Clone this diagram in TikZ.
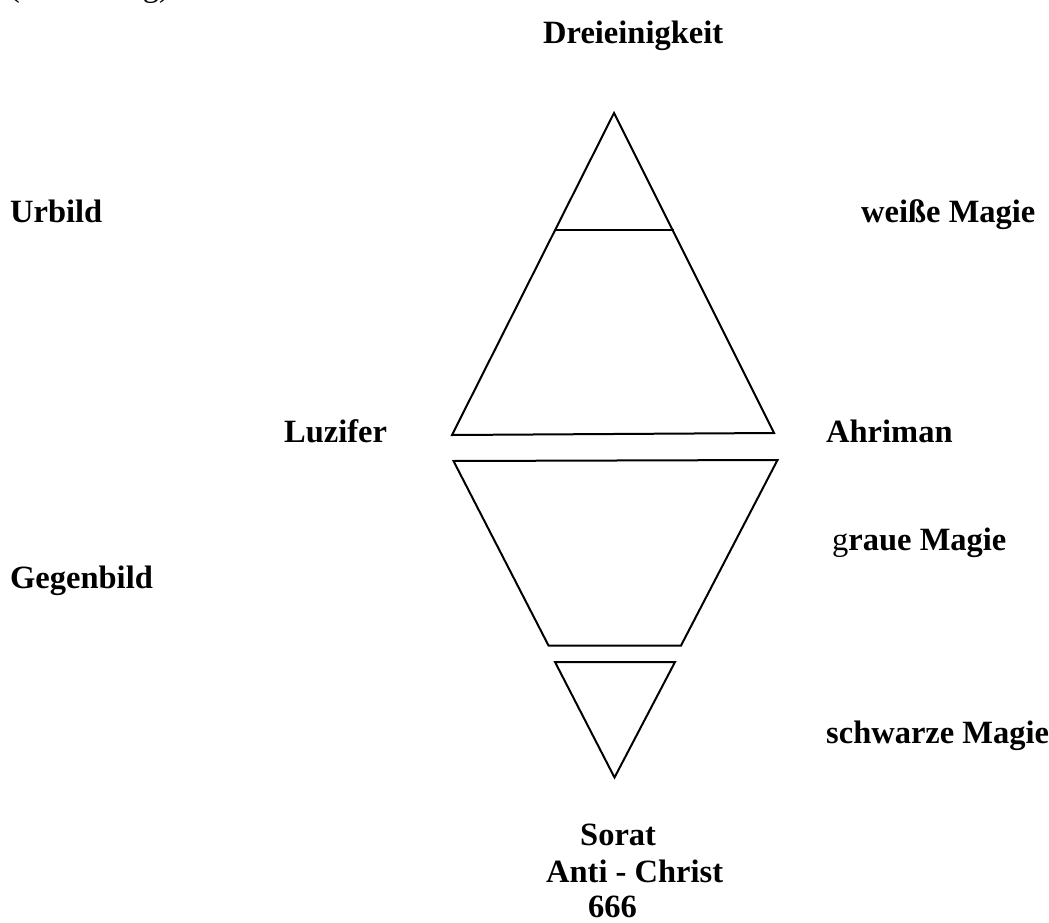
\documentclass[tikz,border=0pt]{standalone}
\usepackage{fontspec}
\setmainfont{Liberation Serif}
\begin{document}
\begin{tikzpicture}[x=1pt,y=-1pt,
  lbl/.style={anchor=base west,inner sep=0pt,font=\fontsize{32.5}{39}\selectfont\bfseries},
  frag/.style={anchor=base west,inner sep=0pt,font=\fontsize{32.5}{39}\selectfont},
  outl/.style={draw=black,line width=2pt,line join=miter}]
\useasboundingbox (0,0) rectangle (1049,923);
% cut-off caption at the top
\node[frag] (cap) at (9,-3) {(Zeichnung)};
% labels
\node[lbl] (drei) at (543,44) {Dreieinigkeit};
\node[lbl] (urbild) at (10,222) {Urbild};
\node[lbl] (weiss) at (861,222) {weiße Magie};
\node[lbl] (luz) at (284,442) {Luzifer};
\node[lbl] (ahr) at (826,442) {Ahriman};
\node[lbl] (grau) at (832,550) {{\mdseries g}raue Magie};
\node[lbl] (gegen) at (10,588) {Gegenbild};
\node[lbl] (schwarz) at (826,743) {schwarze Magie};
\node[lbl] (sorat) at (580,845) {Sorat};
\node[lbl] (anti) at (546,882) {Anti - Christ};
\node[lbl] (six) at (588,917) {666};
% upper triangle
\draw[outl] (614,113) -- (774,433) -- (452,435) -- cycle;
\draw[outl] (554.5,230) -- (673.5,230);
% trapezoid
\draw[outl] (453.5,461) -- (777.5,460) -- (681,645.5) -- (548.5,645.5) -- cycle;
% lower small triangle
\draw[outl] (555,662) -- (675,662) -- (614.5,777.5) -- cycle;
\end{tikzpicture}
\end{document}
